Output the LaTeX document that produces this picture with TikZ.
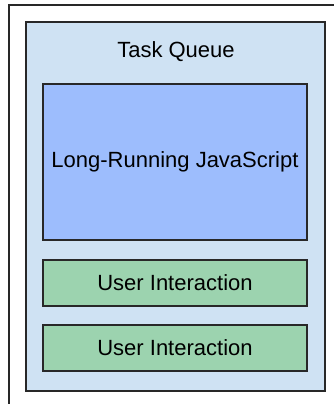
\documentclass[tikz,border=0pt]{standalone}
\usepackage{fontspec}
\setmainfont{Liberation Sans}
\definecolor{queuebg}{RGB}{207,226,243}
\definecolor{jsblue}{RGB}{157,189,253}
\definecolor{uigreen}{RGB}{156,211,175}
\definecolor{framegray}{RGB}{40,40,40}
\begin{document}
\begin{tikzpicture}[x=1pt,y=-1pt,
  box/.style={draw=framegray,line width=1.3pt,inner sep=0pt,font=\fontsize{22}{26}\selectfont},
  queuebox/.style={box,fill=queuebg,minimum width=299pt,minimum height=369pt},
  jsbox/.style={box,fill=jsblue,minimum width=264pt,minimum height=156pt},
  uibox/.style={box,fill=uigreen,minimum width=264pt,minimum height=46pt},
  lbl/.style={inner sep=0pt,font=\fontsize{22}{26}\selectfont}]
\useasboundingbox (0,0) rectangle (333,404);
\draw[framegray,line width=1.3pt] (9,410) -- (9,5) -- (340,5);
\node[queuebox] (queue) at (175.4,206.5) {};
\node[lbl] (title) at (176,52) {Task Queue};
\node[jsbox] (js) at (175,162) {Long-Running JavaScript};
\node[uibox] (ui1) at (175,283) {User Interaction};
\node[uibox] (ui2) at (175,348) {User Interaction};
\end{tikzpicture}
\end{document}
